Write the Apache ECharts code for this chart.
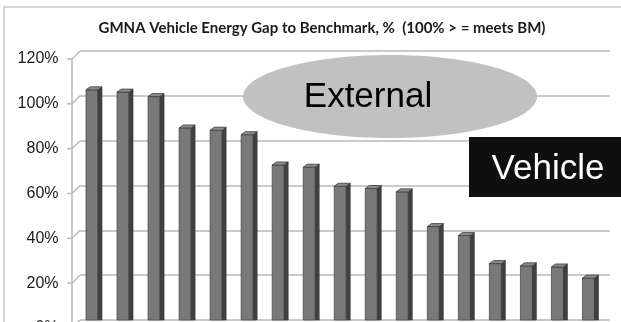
<!DOCTYPE html>
<html>
<head>
<meta charset="utf-8">
<script src="https://cdn.jsdelivr.net/npm/echarts@6/dist/echarts.min.js"></script>
<style>
  html, body { margin: 0; padding: 0; background: #fff; }
  #chart { width: 621px; height: 322px; }
</style>
</head>
<body>
<div id="chart"></div>
<script>
// Vehicle energy gap to benchmark, one value per vehicle (percent)
const vehicles = ['V1','V2','V3','V4','V5','V6','V7','V8','V9','V10','V11','V12','V13','V14','V15','V16','V17'];
const gapPct = [104, 103, 101, 87, 86, 84, 70.5, 69.5, 61, 60, 58.5, 43, 39, 26.5, 25.5, 25, 20];
const yTicks = [0, 20, 40, 60, 80, 100, 120];

const chart = echarts.init(document.getElementById('chart'));

const DEPTH_X = 8, DEPTH_Y = 8;   // offset between front axis and back wall

// Column with a dark right side and a lighter top cap
function renderColumn(params, api) {
  const top = api.coord([api.value(0), api.value(1)]);
  const base = api.coord([api.value(0), 0]);
  const cx = top[0], yt = top[1], y0 = base[1];
  const fl = cx - 8, fr = cx + 4, sr = cx + 8, cap = 3;
  return {
    type: 'group',
    children: [
      { type: 'rect', shape: { x: fl, y: yt + cap, width: fr - fl, height: y0 - yt - cap },
        style: { fill: '#797979', stroke: '#4a4a4a', lineWidth: 0.8 } },
      { type: 'polygon', shape: { points: [[fr, yt + cap], [sr, yt], [sr, y0], [fr, y0]] },
        style: { fill: '#404040', stroke: '#383838', lineWidth: 0.6 } },
      { type: 'polygon', shape: { points: [[fl, yt + cap], [fr, yt + cap], [sr, yt], [fl + 4, yt]] },
        style: { fill: '#8c8c8c', stroke: '#3c3c3c', lineWidth: 0.8 } }
    ]
  };
}

chart.setOption({
  animation: false,
  title: {
    text: 'GMNA Vehicle Energy Gap to Benchmark, %  (100% > = meets BM)',
    left: 317, top: 16, textAlign: 'center',
    textStyle: { fontFamily: 'Lato', fontWeight: 'bold', fontSize: 15, color: '#1a1a1a' }
  },
  grid: [
    { left: 78.5, right: 15, top: 51, bottom: 2, outerBoundsMode: 'none', containLabel: false },
    { left: 80, right: 11, top: 51, bottom: 2, outerBoundsMode: 'none', containLabel: false }
  ],
  xAxis: [
    { type: 'category', data: vehicles, gridIndex: 0, axisLine: { show: false },
      axisTick: { show: false }, axisLabel: { show: false } },
    { type: 'category', data: vehicles, gridIndex: 1, show: false }
  ],
  yAxis: [
    { type: 'value', gridIndex: 0, min: 0, max: 120, interval: 20,
      axisLine: { show: false }, axisTick: { show: false }, splitLine: { show: false },
      axisLabel: { formatter: v => v + '%', margin: 20, verticalAlign: 'top',
        fontFamily: 'Liberation Sans', fontSize: 16, color: '#1a1a1a' } },
    { type: 'value', gridIndex: 1, min: 0, max: 120, interval: 20,
      axisLine: { show: false }, axisTick: { show: false }, axisLabel: { show: false },
      splitLine: { lineStyle: { color: '#b9b9b9', width: 1.5 } } }
  ],
  series: [{
    type: 'custom',
    xAxisIndex: 0, yAxisIndex: 0,
    renderItem: renderColumn,
    encode: { x: 0, y: 1 },
    data: vehicles.map((v, i) => [i, gapPct[i]]),
    z: 5
  }]
});

// Front axis with ticks and the diagonal links to the back wall
const FRONT_X = 72;
const deco = [];
const yTop = chart.convertToPixel({ yAxisIndex: 0 }, 120);
deco.push({ type: 'line', shape: { x1: FRONT_X, y1: yTop + DEPTH_Y, x2: FRONT_X, y2: 330 },
  style: { stroke: '#b9b9b9', lineWidth: 1.5 } });
yTicks.forEach(v => {
  const yb = chart.convertToPixel({ yAxisIndex: 0 }, v);
  deco.push({ type: 'line', shape: { x1: FRONT_X, y1: yb + DEPTH_Y, x2: FRONT_X + DEPTH_X, y2: yb },
    style: { stroke: '#b9b9b9', lineWidth: 1.5 } });
  deco.push({ type: 'line', shape: { x1: FRONT_X - 5, y1: yb + DEPTH_Y, x2: FRONT_X, y2: yb + DEPTH_Y },
    style: { stroke: '#b9b9b9', lineWidth: 1.5 } });
});

chart.setOption({
  graphic: deco.concat([
    // outer chart frame
    { type: 'rect', shape: { x: 4, y: 7, width: 640, height: 340 },
      style: { fill: 'none', stroke: '#c8c8c8', lineWidth: 1.5 }, z: 1 },
    // "External" callout
    { type: 'ellipse', shape: { cx: 390, cy: 96.5, rx: 147, ry: 41.5 },
      style: { fill: '#c1c1c1' }, z: 10 },
    { type: 'text', x: 368, y: 97, z: 11,
      style: { text: 'External', fontFamily: 'Liberation Sans', fontSize: 35, fill: '#000',
        align: 'center', verticalAlign: 'middle' } },
    // "Vehicle" callout
    { type: 'rect', shape: { x: 469, y: 137, width: 160, height: 60 },
      style: { fill: '#0f0f0f' }, z: 10 },
    { type: 'text', x: 548, y: 169, z: 11,
      style: { text: 'Vehicle', fontFamily: 'Liberation Sans', fontSize: 35, fill: '#fff',
        align: 'center', verticalAlign: 'middle' } }
  ])
});
</script>
</body>
</html>
